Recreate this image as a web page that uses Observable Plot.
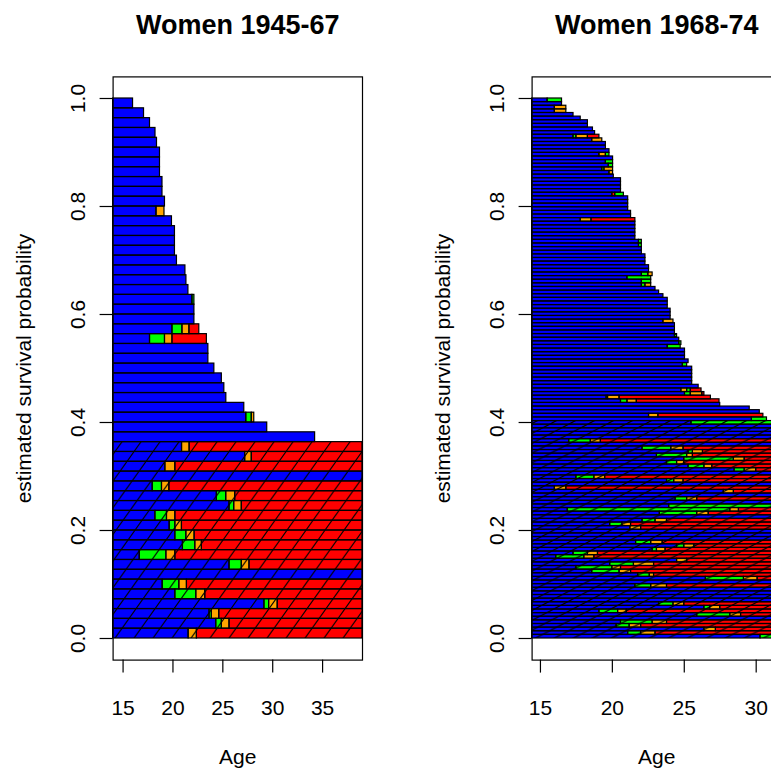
<!DOCTYPE html>
<html><head><meta charset="utf-8">
<script src="https://cdn.jsdelivr.net/npm/d3@7"></script>
<script src="https://cdn.jsdelivr.net/npm/@observablehq/plot@0.6"></script>
<style>
body{margin:0;background:#fff;overflow:hidden}
#wrap{position:relative;width:771px;height:774px;overflow:hidden;background:#fff}
.panel{position:absolute;top:0}
</style></head><body>
<svg width="0" height="0" style="position:absolute"><defs id="pdefs"></defs></svg>
<div id="wrap"></div>
<script>
// ---------- data ----------
const stateCodes = ["B", "G", "O", "R"];
const stateColors = ["#0000FF", "#00FF00", "#FFA500", "#FF0000"];
const yTicks = [0, 0.2, 0.4, 0.6, 0.8, 1.0];

const leftTitle = "Women 1945-67";
const leftTicks = [15, 20, 25, 30, 35];
const leftAgeRange = [14, 39];
// uncensored sequences (top to bottom): [state, age at end of spell]
const leftRows = [
  [["B",16.0]],[["B",17.1]],[["B",17.7]],[["B",18.25]],[["B",18.4]],
  [["B",18.7]],[["B",18.7]],[["B",18.7]],[["B",18.95]],[["B",18.95]],
  [["B",19.2]],[["B",18.35],["O",19.15]],[["B",19.9]],[["B",20.2]],[["B",20.2]],
  [["B",20.2]],[["B",20.4]],[["B",21.25]],[["B",21.35]],[["B",21.55]],
  [["B",21.95],["G",22.15]],[["B",22.15]],[["B",22.15]],
  [["B",19.95],["G",20.95],["O",21.65],["R",22.64]],
  [["B",17.7],["G",19.2],["O",19.95],["R",23.4]],
  [["B",23.55]],[["B",23.55]],[["B",24.15]],[["B",24.9]],[["B",25.15]],
  [["B",25.35]],[["B",27.15]],[["B",27.35],["G",27.9],["O",28.15]],
  [["B",29.45]],[["B",34.25]]
];
// censored sequences (hatched), null = until end of window
const leftCensored = [
  [["B",20.91],["O",21.67],["R",null]],
  [["B",27.24],["O",27.9],["R",null]],
  [["B",19.24],["O",20.24],["R",null]],
  [["B",null]],
  [["B",17.97],["G",18.9],["O",19.64],["R",null]],
  [["B",24.4],["G",25.34],["O",26.24],["R",null]],
  [["B",25.67],["G",26.14],["O",26.9],["R",null]],
  [["B",18.24],["G",19.4],["O",20.24],["R",null]],
  [["B",19.67],["G",20.24],["O",20.9],["R",null]],
  [["B",20.24],["G",21.34],["O",22.17],["R",null]],
  [["B",21.0],["G",22.24],["O",22.9],["R",null]],
  [["B",16.67],["G",19.34],["O",20.24],["R",null]],
  [["B",25.67],["G",26.9],["O",27.67],["R",null]],
  [["B",null]],
  [["B",18.97],["G",20.64],["O",21.4],["R",null]],
  [["B",20.24],["G",22.34],["O",23.24],["R",null]],
  [["B",29.17],["G",29.64],["O",30.5],["R",null]],
  [["B",23.67],["G",23.9],["O",24.64],["R",null]],
  [["B",24.34],["G",24.9],["O",25.67],["R",null]],
  [["B",21.57],["O",22.4],["R",null]]
];

const rightTitle = "Women 1968-74";
const rightTicks = [15, 20, 25, 30];
const rightAgeRange = [14.42, 31.76];
const rightRows = [
  [["B",15.5],["G",16.5]],[["B",16.5]],[["B",16.0],["O",16.8]],[["B",16.0],["O",16.8]],
  [["B",17.3]],[["B",17.8]],[["B",18.3]],[["B",18.3]],[["B",18.65]],[["B",18.8]],
  [["B",17.3],["G",17.5],["O",18.3],["R",19.1]],[["B",18.6],["O",19.3]],
  [["B",19.55]],[["B",19.55]],[["B",19.8]],[["B",19.1],["O",19.55],["G",19.8]],
  [["B",20.05]],[["B",19.55],["G",20.05]],[["B",19.75],["G",20.05]],
  [["B",19.3],["G",19.45],["O",20.05]],[["B",19.8],["O",20.05]],[["B",20.1]],
  [["B",20.6]],[["B",20.6]],[["B",20.6]],[["B",20.6]],
  [["B",20.0],["R",20.2],["G",20.8]],
  [["B",21.1]],[["B",21.1]],[["B",21.1]],[["B",21.1]],[["B",21.3]],[["B",21.3]],
  [["B",17.8],["O",18.55],["R",21.6]],
  [["B",21.6]],[["B",21.6]],[["B",21.6]],[["B",21.6]],[["B",21.6]],
  [["B",21.85],["G",22.05]],[["B",21.85],["G",22.05]],[["B",22.05]],[["B",22.05]],
  [["B",22.3]],[["B",22.3]],[["B",22.3]],[["B",22.55]],[["B",22.55]],
  [["B",22.05],["G",22.5],["O",22.8]],[["B",21.05],["G",22.7]],[["B",22.05],["G",22.7]],
  [["B",22.05],["G",22.3],["O",22.7]],
  [["B",23.0]],[["B",23.25]],[["B",23.55]],[["B",23.85]],[["B",23.85]],[["B",23.85]],
  [["B",24.05]],[["B",24.05]],[["B",24.05]],[["B",23.55],["O",24.25]],
  [["B",24.35]],[["B",24.35]],[["B",24.35]],[["B",24.35],["G",24.5]],[["B",24.65]],
  [["B",24.65],["G",24.8]],[["B",23.85],["G",24.75]],
  [["B",25.05]],[["B",25.05]],[["B",25.05]],[["B",25.3]],[["B",24.9],["G",25.2]],
  [["B",25.55]],[["B",25.55]],[["B",25.55]],[["B",25.55]],[["B",25.55]],[["B",26.0]],
  [["B",24.8],["O",25.2],["G",25.45],["R",26.2]],
  [["B",25.05],["G",25.45],["O",26.25],["R",26.4]],
  [["B",19.6],["G",19.7],["O",20.5],["R",26.85]],
  [["B",20.6],["G",21.05],["O",21.7],["R",27.45]],
  [["B",27.5]],[["B",29.55]],[["B",30.25]],
  [["B",22.55],["O",23.2],["R",30.5]],
  [["B",29.7],["G",30.75]]
];
const rightCensored = [
  [["B",25.5],["G",null]],[["B",null]],[["B",null]],[["B",null]],[["B",null]],
  [["B",17.0],["G",18.5],["O",19.2],["R",null]],[["B",null]],
  [["B",22.1],["G",24.1],["O",24.95],["R",null]],
  [["B",25.3],["G",25.6],["O",26.3],["R",null]],
  [["B",23.1],["G",25.2],["O",25.6],["R",null]],
  [["B",25.0],["G",28.45],["O",29.2],["R",null]],
  [["B",23.8],["G",24.5],["O",25.0],["R",null]],
  [["B",25.3],["G",26.4],["O",26.95],["R",null]],
  [["B",28.5],["G",29.2],["O",30.0],["R",null]],
  [["B",null]],
  [["B",17.5],["G",18.75],["O",19.5],["R",null]],
  [["B",23.8],["G",24.3],["O",24.95],["R",null]],
  [["B",null]],
  [["B",16.0],["O",16.8],["R",null]],
  [["B",27.75],["O",28.45],["R",null]],
  [["B",null]],
  [["B",24.4],["G",25.2],["O",25.9],["R",null]],
  [["B",null]],
  [["B",23.95],["G",null]],
  [["B",16.9],["G",28.2],["O",28.8],["R",null]],
  [["B",23.3],["G",25.9],["O",26.7],["R",null]],
  [["B",null]],
  [["B",22.1],["G",23.0],["O",23.8],["R",null]],
  [["B",19.85],["G",20.7],["O",21.3],["R",null]],
  [["B",21.25],["O",22.0],["R",null]],
  [["B",null]],[["B",null]],[["B",null]],
  [["B",21.65],["G",22.7],["O",23.5],["R",null]],
  [["B",24.5],["G",25.0],["O",25.7],["R",null]],
  [["B",22.8],["G",23.1],["O",23.7],["R",null]],
  [["B",17.3],["G",18.3],["O",19.0],["R",null]],
  [["B",16.1],["G",18.05],["O",18.75],["R",null]],
  [["B",24.5],["O",25.2],["R",null]],
  [["B",19.85],["G",21.5],["O",22.9],["R",null]],
  [["B",17.5],["G",20.0],["O",20.6],["R",null]],
  [["B",18.6],["G",20.5],["O",21.3],["R",null]],
  [["B",21.8],["G",22.6],["O",22.9],["R",null]],
  [["B",26.5],["G",29.15],["O",30.1],["R",null]],
  [["B",null]],
  [["B",21.6],["G",22.7],["O",23.8],["R",null]],
  [["B",null]],[["B",null]],[["B",null]],[["B",null]],
  [["B",23.25],["G",24.25],["O",25.0],["R",null]],
  [["B",26.4],["G",26.8],["O",27.5],["R",null]],
  [["B",19.1],["G",20.4],["O",21.0],["R",null]],
  [["B",25.9],["G",28.2],["O",28.95],["R",null]],
  [["B",null]],
  [["B",20.6],["G",22.8],["O",23.8],["R",null]],
  [["B",20.3],["G",21.2],["O",22.0],["R",null]],
  [["B",26.4],["O",27.2],["R",null]],
  [["B",21.1],["G",22.0],["O",23.0],["R",null]],
  [["B",30.3],["G",null]]
];

// ---------- drawing ----------
const FONT = "'Liberation Sans', Arial, Helvetica, sans-serif";
const PLOT_H = 774, MT = 76.4, MB = 114.4;
const NS = "http://www.w3.org/2000/svg";

// hatch pattern: each line crosses one row while moving ~7px right, 19px apart
function makeHatch(id, rowPx) {
  const w = 19, h = w * rowPx / 7;
  const p = document.createElementNS(NS, "pattern");
  p.setAttribute("id", id);
  p.setAttribute("patternUnits", "userSpaceOnUse");
  p.setAttribute("width", w);
  p.setAttribute("height", h);
  const path = document.createElementNS(NS, "path");
  const k = h / w;
  path.setAttribute("d", `M${-2},${h + 2 * k} L${w + 2},${-2 * k} M${-2},${2 * k} L${2},${-2 * k} M${w - 2},${h + 2 * k} L${w + 2},${h - 2 * k}`);
  path.setAttribute("stroke", "#000");
  path.setAttribute("stroke-width", "1.1");
  path.setAttribute("fill", "none");
  p.appendChild(path);
  document.getElementById("pdefs").appendChild(p);
}

function buildSegments(rows, censored, range) {
  const all = rows.concat(censored);
  const N = all.length;
  const segs = [];
  all.forEach((seq, i) => {
    let start = range[0];
    seq.forEach(([s, end]) => {
      const e = end == null ? range[1] : end;
      segs.push({x1: start, x2: e, y1: 1 - (i + 1) / N, y2: 1 - i / N, state: s, cens: i >= rows.length});
      start = e;
    });
  });
  return {segs, N, nC: censored.length};
}

function panel(title, rows, censored, range, ticks, hatchId) {
  const {segs, N, nC} = buildSegments(rows, censored, range);
  const ymin = -0.04, ymax = 1.04;
  const rowPx = (PLOT_H - MT - MB) / (ymax - ymin) / N;
  makeHatch(hatchId, rowPx);
  return Plot.plot({
    width: 420, height: PLOT_H,
    marginTop: MT, marginBottom: MB, marginLeft: 112.6, marginRight: 58,
    style: {fontFamily: FONT, background: "white", overflow: "visible"},
    x: {domain: range, axis: null},
    y: {domain: [ymin, ymax], axis: null},
    color: {domain: stateCodes, range: stateColors},
    marks: [
      Plot.rect(segs, {x1: "x1", x2: "x2", y1: "y1", y2: "y2", fill: "state"}),
      Plot.rect([{a: range[0], b: range[1], c: 0, d: nC / N}], {x1: "a", x2: "b", y1: "c", y2: "d", fill: `url(#${hatchId})`}),
      Plot.rect(segs, {x1: "x1", x2: "x2", y1: "y1", y2: "y2", fill: "none", stroke: "black", strokeWidth: 1.2}),
      Plot.frame({stroke: "black", strokeWidth: 1.2}),
      Plot.axisX({ticks, tickSize: 13, tickPadding: 27, fontSize: 21, label: null, strokeWidth: 1.2}),
      Plot.axisY({ticks: yTicks, tickSize: 13, tickFormat: () => "", label: null, strokeWidth: 1.2}),
      Plot.text(yTicks, {x: range[0], y: d => d, text: d => d.toFixed(1), rotate: -90, textAnchor: "middle", lineAnchor: "bottom", dx: -28.6, fontSize: 21, fill: "black"}),
      Plot.text(["Age"], {frameAnchor: "bottom", dy: 104, lineAnchor: "bottom", fontSize: 21, fill: "black"}),
      Plot.text(["estimated survival probability"], {frameAnchor: "left", dx: -82, rotate: -90, textAnchor: "middle", lineAnchor: "bottom", fontSize: 21, fill: "black"}),
      Plot.text([title], {frameAnchor: "top", dy: -43, lineAnchor: "bottom", fontSize: 27, fontWeight: "bold", fill: "black"})
    ]
  });
}

const wrap = document.getElementById("wrap");
const p1 = panel(leftTitle, leftRows, leftCensored, leftAgeRange, leftTicks, "hatchL");
p1.classList.add("panel"); p1.style.left = "0px";
const p2 = panel(rightTitle, rightRows, rightCensored, rightAgeRange, rightTicks, "hatchR");
p2.classList.add("panel"); p2.style.left = "419px";
wrap.appendChild(p1); wrap.appendChild(p2);
</script></body></html>
